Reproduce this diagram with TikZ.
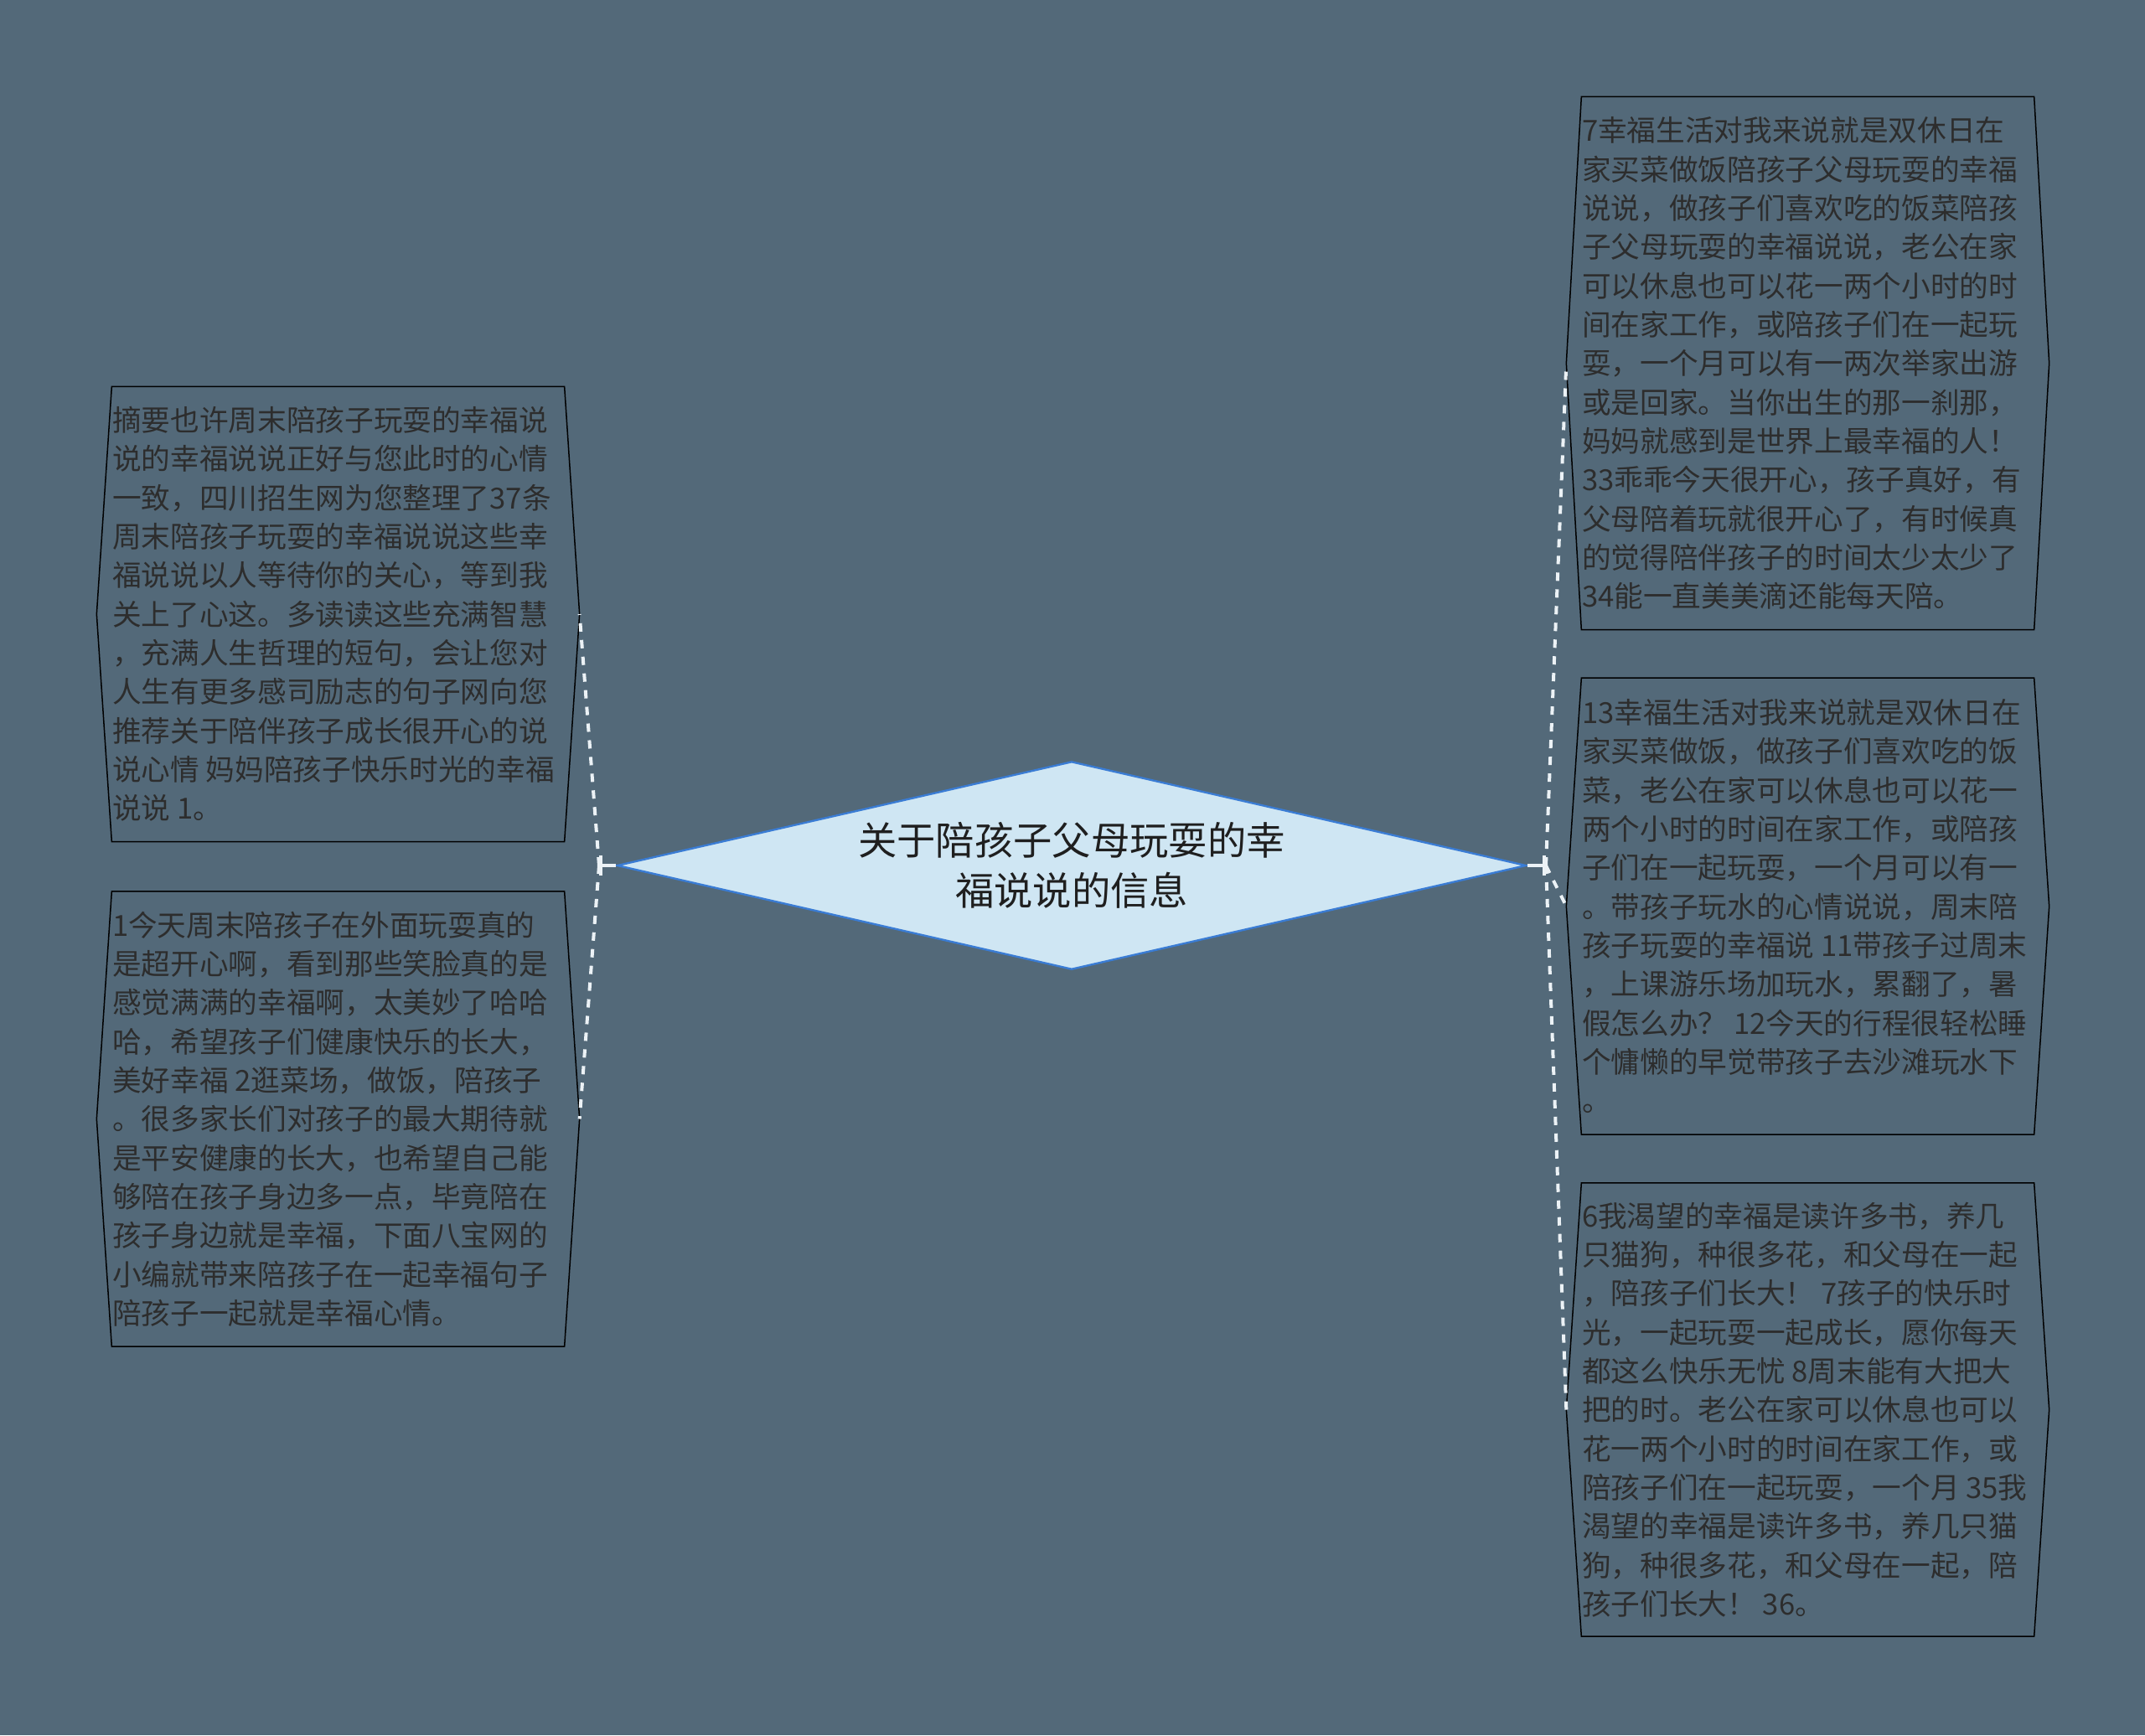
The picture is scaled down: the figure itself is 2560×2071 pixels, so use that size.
\documentclass[tikz,border=0pt]{standalone}
\usepackage{fontspec}
\newfontfamily\cjk{Noto Sans CJK SC}
\usetikzlibrary{shapes.geometric,calc,arrows.meta}
\definecolor{bgslate}{RGB}{83,105,121}
\definecolor{topicfill}{RGB}{207,230,243}
\definecolor{topicline}{RGB}{58,124,212}
\definecolor{leaftext}{RGB}{45,45,45}
\definecolor{linkwhite}{RGB}{236,242,246}
\tikzset{
        topic/.style={diamond, aspect=4.38, minimum width=325.5pt, minimum height=74.5pt, inner sep=0,
                fill=topicfill, draw=topicline, line width=0.7pt, align=center, text=black!88,
                font=\cjk\fontsize{13.9pt}{18.1pt}\selectfont},
        leafline/.style={black, line width=0.45pt},
        leaftxt/.style={anchor=west, inner sep=0, align=left, text=leaftext,
                font=\cjk\fontsize{10.4pt}{13.9pt}\selectfont},
        stem/.style={linkwhite, line width=1.2pt, -{Bar[width=7pt,line width=1.2pt]}}
}

\begin{document}
\begin{tikzpicture}[x=0.3pt,y=-0.3pt]
        \fill[bgslate] (0,0) rectangle (2560,2071);
        \node[topic] (T) at (1279,1033) {关于陪孩子父母玩耍的幸\\福说说的信息};
        % leaf boxes
        \begin{scope}[every node/.style={rectangle, minimum width=161.7pt, inner sep=0}]
                \node[minimum height=162.6pt] (L1) at (403.5,733) {};
                \node[minimum height=162.6pt] (L2) at (403.5,1335.5) {};
                \node[minimum height=190.5pt] (R1) at (2157.5,433.5) {};
                \node[minimum height=163.1pt] (R2) at (2157.5,1081.7) {};
                \node[minimum height=162pt] (R3) at (2157.5,1682.5) {};
        \end{scope}
        \foreach \n in {L1,L2,R1,R2,R3}{
                \coordinate (\n-w) at ($(\n.west)+(-18,0)$);
                \coordinate (\n-e) at ($(\n.east)+(18,0)$);
                \draw[leafline] (\n.north west) -- (\n.north east) -- (\n-e) -- (\n.south east)
                        -- (\n.south west) -- (\n-w) -- cycle;
        }
        \begin{scope}[every node/.style={leaftxt}]
                \node (L1t) at (L1.west) {摘要也许周末陪孩子玩耍的幸福说\\说的幸福说说正好与您此时的心情\\一致，四川招生网为您整理了37条\\周末陪孩子玩耍的幸福说说这些幸\\福说说以人等待你的关心，等到我\\关上了心这。多读读这些充满智慧\\，充满人生哲理的短句，会让您对\\人生有更多感司励志的句子网向您\\推荐关于陪伴孩子成长很开心的说\\说心情 妈妈陪孩子快乐时光的幸福\\说说 1。};
                \node (L2t) at (L2.west) {1今天周末陪孩子在外面玩耍真的\\是超开心啊，看到那些笑脸真的是\\感觉满满的幸福啊，太美妙了哈哈\\哈，希望孩子们健康快乐的长大，\\美好幸福 2逛菜场，做饭，陪孩子\\。很多家长们对孩子的最大期待就\\是平安健康的长大，也希望自己能\\够陪在孩子身边多一点，毕竟陪在\\孩子身边就是幸福，下面八宝网的\\小编就带来陪孩子在一起幸福句子\\陪孩子一起就是幸福心情。};
                \node (R1t) at (R1.west) {7幸福生活对我来说就是双休日在\\家买菜做饭陪孩子父母玩耍的幸福\\说说，做孩子们喜欢吃的饭菜陪孩\\子父母玩耍的幸福说说，老公在家\\可以休息也可以花一两个小时的时\\间在家工作，或陪孩子们在一起玩\\耍，一个月可以有一两次举家出游\\或是回家。当你出生的那一刹那，\\妈妈就感到是世界上最幸福的人！\\33乖乖今天很开心，孩子真好，有\\父母陪着玩就很开心了，有时候真\\的觉得陪伴孩子的时间太少太少了\\34能一直美美滴还能每天陪。};
                \node (R2t) at (R2.west) {13幸福生活对我来说就是双休日在\\家买菜做饭，做孩子们喜欢吃的饭\\菜，老公在家可以休息也可以花一\\两个小时的时间在家工作，或陪孩\\子们在一起玩耍，一个月可以有一\\。带孩子玩水的心情说说，周末陪\\孩子玩耍的幸福说 11带孩子过周末\\，上课游乐场加玩水，累翻了，暑\\假怎么办？ 12今天的行程很轻松睡\\个慵懒的早觉带孩子去沙滩玩水下\\。};
                \node (R3t) at (R3.west) {6我渴望的幸福是读许多书，养几\\只猫狗，种很多花，和父母在一起\\，陪孩子们长大！ 7孩子的快乐时\\光，一起玩耍一起成长，愿你每天\\都这么快乐无忧 8周末能有大把大\\把的时。老公在家可以休息也可以\\花一两个小时的时间在家工作，或\\陪孩子们在一起玩耍，一个月 35我\\渴望的幸福是读许多书，养几只猫\\狗，种很多花，和父母在一起，陪\\孩子们长大！ 36。};
        \end{scope}
        % links
        \coordinate (jL) at (715,1033);
        \coordinate (jR) at (1845,1033);
        \draw[stem] (T.west) -- (jL);
        \draw[stem] (T.east) -- (jR);
        \begin{scope}[every path/.style={draw=linkwhite, line width=1.2pt, dash pattern=on 3pt off 3pt}]
                \path (jL) edge (L1-e) edge (L2-e);
                \path (jR) edge (R1-w) edge (R2-w) edge (R3-w);
        \end{scope}
\end{tikzpicture}
\end{document}
